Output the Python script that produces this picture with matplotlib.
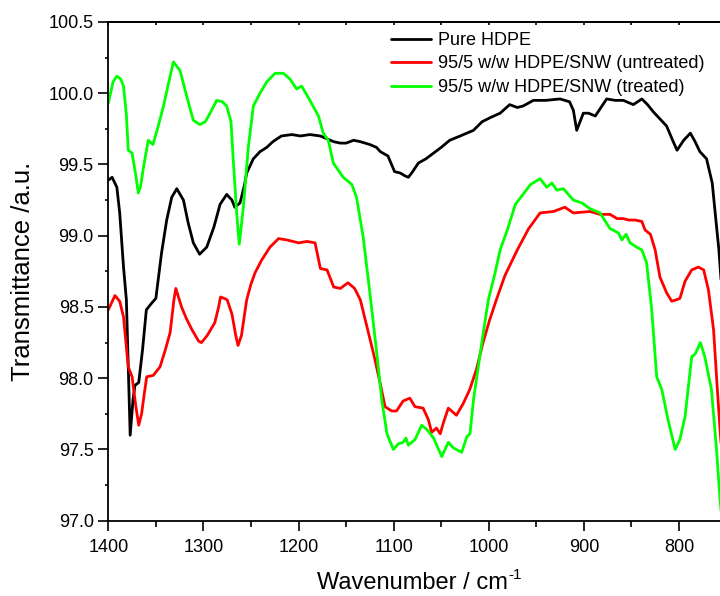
import matplotlib
matplotlib.use("Agg")
import matplotlib.pyplot as plt
from matplotlib.ticker import MultipleLocator, FormatStrFormatter, NullFormatter

plt.rcParams['font.family'] = ['Liberation Sans', 'DejaVu Sans']

# ---- data ----
wn_pure = [1400, 1396, 1391, 1388, 1384, 1381, 1379, 1377, 1374, 1372, 1368, 1364, 1360, 1354, 1350,
           1344, 1338.6, 1333.3, 1328, 1321, 1316, 1310.6, 1304, 1296.5, 1289, 1282.5, 1275.5, 1270,
           1267, 1261.5, 1257, 1254.5, 1247.5, 1240.5, 1233.4, 1227, 1218, 1207, 1198, 1188, 1177,
           1170, 1163, 1156, 1150, 1142, 1135, 1125, 1118, 1114, 1106, 1099, 1093, 1088, 1084.5, 1080,
           1074, 1066, 1058, 1050, 1041, 1030, 1016, 1007, 998, 988, 978, 970, 964, 953, 940, 925, 915,
           911, 907.5, 904, 900.5, 895, 888, 882, 876, 867, 858.5, 848, 839, 833, 827, 820, 813, 806,
           802, 798, 795, 788, 783, 778, 771, 765, 761, 758, 755, 750]
t_pure = [99.39, 99.41, 99.34, 99.16, 98.78, 98.55, 98.08, 97.60, 97.85, 97.95, 97.97, 98.20, 98.48, 98.53, 98.56,
          98.88, 99.11, 99.27, 99.33, 99.25, 99.09, 98.95, 98.87, 98.92, 99.06, 99.22, 99.29, 99.25,
          99.20, 99.23, 99.35, 99.44, 99.54, 99.59, 99.62, 99.66, 99.70, 99.71, 99.70, 99.71, 99.70,
          99.68, 99.66, 99.65, 99.65, 99.67, 99.66, 99.64, 99.62, 99.59, 99.56, 99.45, 99.44, 99.42, 99.41, 99.45,
          99.51, 99.54, 99.58, 99.62, 99.67, 99.70, 99.74, 99.80, 99.83, 99.86, 99.92, 99.90, 99.91, 99.95, 99.95, 99.96, 99.94,
          99.88, 99.74, 99.80, 99.86, 99.86, 99.84, 99.90, 99.96, 99.95, 99.95, 99.92, 99.96, 99.92, 99.87, 99.82, 99.77, 99.66,
          99.60, 99.64, 99.67, 99.72, 99.66, 99.59, 99.54, 99.37, 99.10, 98.90, 98.62, 97.80]

wn_untreated = [1400, 1393, 1388, 1384, 1379, 1375, 1371, 1368, 1365, 1362, 1359.6, 1352.7, 1345.6, 1340,
                1335, 1331, 1329, 1323, 1318, 1312, 1305, 1302, 1296, 1288, 1284, 1282, 1278, 1275, 1270,
                1266, 1263.6, 1260, 1254.5, 1250, 1245.7, 1238.7, 1230, 1221, 1212, 1200, 1191, 1182.6,
                1177, 1170, 1163, 1156, 1148, 1141, 1135, 1128, 1121, 1114, 1109, 1102, 1097, 1090, 1083,
                1077.5, 1069, 1063.5, 1060, 1055, 1051, 1048, 1042.5, 1034, 1027, 1020, 1013, 1006, 999,
                992, 983, 970, 958, 946, 932, 920, 911, 893.5, 883, 872.5, 865, 858.5, 853, 846, 839,
                835.6, 830, 825, 820, 813, 807.6, 803, 799, 793.6, 786.6, 779.6, 774, 769, 763.6, 760,
                757, 750]
t_untreated = [98.48, 98.58, 98.54, 98.43, 98.08, 98.01, 97.80, 97.67, 97.75, 97.90, 98.01, 98.02, 98.08, 98.20,
               98.32, 98.55, 98.63, 98.50, 98.42, 98.34, 98.26, 98.25, 98.30, 98.39, 98.50, 98.57, 98.56, 98.55, 98.45,
               98.30, 98.23, 98.30, 98.55, 98.66, 98.74, 98.83, 98.92, 98.98, 98.97, 98.95, 98.96, 98.95,
               98.77, 98.76, 98.64, 98.63, 98.67, 98.63, 98.55, 98.36, 98.17, 97.96, 97.80, 97.77, 97.77, 97.84, 97.86,
               97.80, 97.79, 97.71, 97.62, 97.65, 97.61, 97.68, 97.79, 97.74, 97.82, 97.92, 98.06, 98.25, 98.41,
               98.55, 98.72, 98.90, 99.05, 99.16, 99.17, 99.20, 99.16, 99.17, 99.15, 99.15, 99.12, 99.12, 99.11, 99.11, 99.10,
               99.04, 99.01, 98.90, 98.71, 98.60, 98.54, 98.55, 98.56, 98.68, 98.76, 98.78, 98.76, 98.62, 98.34, 97.96,
               97.66, 97.00]

wn_treated = [1400, 1395, 1391, 1387, 1384, 1381, 1379, 1375, 1371, 1368.5, 1366, 1363, 1358, 1353, 1347.5,
              1342, 1337, 1331.6, 1324.6, 1317.6, 1310.6, 1303.6, 1298, 1293, 1286, 1280, 1275.5, 1271,
              1268.6, 1265, 1262.3, 1258, 1252.8, 1247.5, 1240.5, 1233.4, 1224.7, 1216, 1209, 1202,
              1196.7, 1188, 1179, 1174, 1168.7, 1163.4, 1153, 1144, 1139, 1132, 1125, 1117.8, 1112.5,
              1107, 1100.3, 1095, 1090, 1087, 1084.5, 1077.5, 1070.5, 1065, 1058, 1049.4, 1042.5, 1037,
              1028.4, 1023, 1019.7, 1016, 1011, 1005.7, 1000.4, 994, 988, 980, 972, 956, 946, 939,
              933.7, 928.5, 921.5, 911, 902, 893.5, 883, 872.5, 863.7, 860, 855.6, 851.4, 844.4, 839,
              834, 828.6, 823.4, 818, 811.5, 804, 799, 793.6, 786.6, 783, 777.4, 772.8, 765.8, 760.5,
              757, 750]
t_treated = [99.93, 100.08, 100.12, 100.10, 100.05, 99.85, 99.60, 99.58, 99.42, 99.30, 99.35, 99.48, 99.67, 99.64, 99.77,
             99.91, 100.06, 100.22, 100.16, 99.98, 99.81, 99.78, 99.80, 99.86, 99.95, 99.94, 99.91, 99.80,
             99.53, 99.16, 98.94, 99.20, 99.62, 99.91, 100.00, 100.08, 100.14, 100.14, 100.10, 100.03,
             100.05, 99.95, 99.84, 99.72, 99.67, 99.51, 99.41, 99.36, 99.27, 98.99, 98.60, 98.18, 97.85,
             97.61, 97.50, 97.54, 97.55, 97.58, 97.53, 97.57, 97.67, 97.64, 97.58, 97.45, 97.55, 97.51,
             97.48, 97.59, 97.61, 97.85, 98.08, 98.32, 98.55, 98.72, 98.90, 99.05, 99.22, 99.36, 99.40, 99.34,
             99.37, 99.32, 99.33, 99.25, 99.23, 99.19, 99.16, 99.05, 99.02, 98.97, 99.01, 98.95, 98.92, 98.90,
             98.81, 98.48, 98.01, 97.92, 97.71, 97.50, 97.57, 97.73, 98.15, 98.17, 98.25, 98.15, 97.92, 97.50,
             97.17, 96.60]

labels = ['Pure HDPE', '95/5 w/w HDPE/SNW (untreated)', '95/5 w/w HDPE/SNW (treated)']
colors = ['#000000', '#FF0000', '#00FF00']

# ---- figure ----
W, H = 720, 596
fig = plt.figure(figsize=(7.2, 5.96), dpi=100)
ax = fig.add_axes([108.3 / W, (H - 520.7) / H, 618.2 / W, 498.7 / H])

style = dict(lw=2.0, solid_joinstyle='round', solid_capstyle='round')
ax.plot(wn_pure, t_pure, color=colors[0], label=labels[0], **style)
ax.plot(wn_untreated, t_untreated, color=colors[1], label=labels[1], **style)
ax.plot(wn_treated, t_treated, color=colors[2], label=labels[2], **style)

ax.set_xlim(1400, 750)
ax.set_ylim(97.0, 100.5)

ax.xaxis.set_major_locator(MultipleLocator(100))
ax.xaxis.set_minor_locator(MultipleLocator(50))
ax.yaxis.set_major_locator(MultipleLocator(0.5))
ax.yaxis.set_minor_locator(MultipleLocator(0.25))
ax.yaxis.set_major_formatter(FormatStrFormatter('%.1f'))

ax.tick_params(axis='both', which='major', direction='out', length=7, width=1.2, labelsize=13)
ax.tick_params(axis='x', which='minor', direction='out', length=4.5, width=1.2)
ax.tick_params(axis='y', which='minor', direction='out', length=2.5, width=1.2)
ax.tick_params(axis='x', which='major', pad=6)

# top axis with small inward ticks
top = ax.secondary_xaxis('top')
top.xaxis.set_major_locator(MultipleLocator(100))
top.xaxis.set_minor_locator(MultipleLocator(50))
top.xaxis.set_major_formatter(NullFormatter())
top.tick_params(axis='x', which='both', direction='in', length=2.5, width=1.2)
top.spines['top'].set_linewidth(1.3)

for s in ax.spines.values():
    s.set_linewidth(1.3)

ax.set_ylabel('Transmittance /a.u.', fontsize=18.5, labelpad=10)

# x label with a small "-1" superscript
xl = fig.text(412 / W, 1 - 589 / H, 'Wavenumber / cm', fontsize=17, ha='center', va='baseline')
fig.canvas.draw()
bb = xl.get_window_extent()
fig.text((bb.x1 + 1) / W, 1 - 579 / H, '-1', fontsize=11, ha='left', va='baseline')

leg = ax.legend(loc='upper left', bbox_to_anchor=(391 / W, 1 - 32 / H),
                bbox_transform=fig.transFigure, frameon=False, fontsize=13,
                borderaxespad=0, borderpad=0, handlelength=2.2, handletextpad=0.4,
                labelspacing=0.36)

fig.savefig('out.png', dpi=100)
